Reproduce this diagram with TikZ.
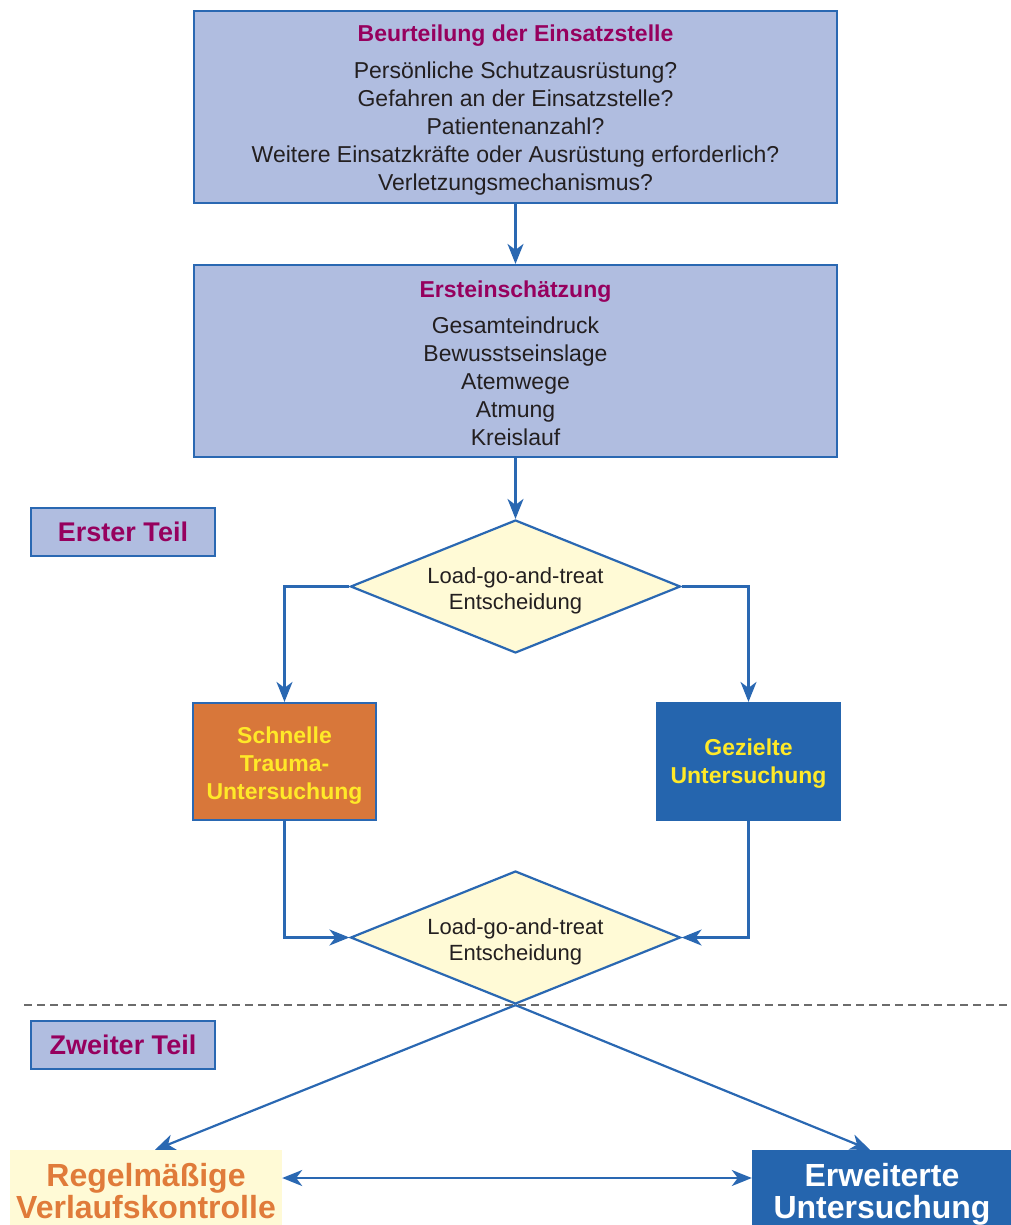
\documentclass[tikz,border=0pt]{standalone}
\usepackage{fontspec}
\setmainfont{Liberation Sans}
\usetikzlibrary{shapes.geometric,arrows.meta}
\definecolor{lineblue}{HTML}{2A68B2}
\definecolor{boxblue}{HTML}{B0BDE0}
\definecolor{titlemag}{HTML}{96005E}
\definecolor{textdark}{HTML}{231F20}
\definecolor{diamfill}{HTML}{FFFAD6}
\definecolor{orangefill}{HTML}{D8773A}
\definecolor{darkblue}{HTML}{2565AE}
\definecolor{yellowtxt}{HTML}{FFE928}
\definecolor{orangetxt}{HTML}{E07B3A}
\begin{document}
\begin{tikzpicture}[x=1pt,y=-1pt,
  bigbox/.style={draw=lineblue, line width=2.2pt, fill=boxblue, minimum width=643pt, minimum height=192pt, inner sep=0pt, align=center, text=textdark, font=\fontsize{23}{28}\selectfont},
  decision/.style={diamond, draw=lineblue, line width=2.2pt, fill=diamfill, minimum width=330pt, minimum height=133pt, aspect=2.48, inner sep=0pt, align=center, text=textdark, font=\fontsize{22}{26}\selectfont},
  tagbox/.style={draw=lineblue, line width=2.2pt, fill=boxblue, minimum width=184pt, minimum height=48pt, inner sep=0pt, text=titlemag, font=\fontsize{27}{30}\selectfont\bfseries},
  exambox/.style={line width=2.2pt, minimum width=183pt, minimum height=117pt, inner sep=0pt, align=center, text=yellowtxt, font=\fontsize{23}{28}\selectfont\bfseries},
  endbox/.style={minimum height=82pt, inner sep=0pt, align=center, font=\fontsize{32}{32}\selectfont\bfseries},
  conn/.style={draw=lineblue, line width=2.2pt, -{Stealth[length=20pt,width=16pt,inset=6pt]}},
  conn2/.style={draw=lineblue, line width=2.2pt, {Stealth[length=20pt,width=16pt,inset=6pt]}-{Stealth[length=20pt,width=16pt,inset=6pt]}}
]
\useasboundingbox (0,0) rectangle (1010,1225);

\node[bigbox] (scene) at (515.5,107) {\rule{0pt}{23pt}\textcolor{titlemag}{\textbf{Beurteilung der Einsatzstelle}}\\[9pt]
Persönliche Schutzausrüstung?\\
Gefahren an der Einsatzstelle?\\
Patientenanzahl?\\
Weitere Einsatzkräfte oder Ausrüstung erforderlich?\\
Verletzungsmechanismus?};

\node[bigbox] (first) at (515.5,361) {\rule{0pt}{21pt}\textcolor{titlemag}{\textbf{Ersteinschätzung}}\\[8pt]
Gesamteindruck\\
Bewusstseinslage\\
Atemwege\\
Atmung\\
Kreislauf};

\node[tagbox] (teil1) at (123,532) {Erster Teil};
\node[tagbox] (teil2) at (123,1045) {Zweiter Teil};

\node[decision] (d1) at (515.5,586.5) {\rule{0pt}{24pt}Load-go-and-treat\\Entscheidung};
\node[decision] (d2) at (515.5,937.5) {\rule{0pt}{24pt}Load-go-and-treat\\Entscheidung};

\node[exambox, draw=lineblue, fill=orangefill] (rapid) at (284.5,761.5) {\rule{0pt}{25pt}Schnelle\\Trauma-\\Untersuchung};
\node[exambox, draw=darkblue, fill=darkblue] (focus) at (748.5,761.5) {\rule{0pt}{21pt}Gezielte\\Untersuchung};

\node[endbox, fill=diamfill, text=orangetxt, minimum width=272pt] (ongoing) at (146,1191) {Regelmäßige\\Verlaufskontrolle};
\node[endbox, fill=darkblue, text=white, minimum width=260pt] (detail) at (882,1191) {\rule{0pt}{29pt}Erweiterte\\Untersuchung};

\coordinate (dashL) at (24,1005);
\coordinate (dashR) at (1010,1005);
\coordinate (ymark) at (0,1178);
\draw[draw=gray!85!black, line width=1.5pt, dash pattern=on 8pt off 5pt] (dashL) -- (dashR);

\draw[conn] (scene) -- (first);
\draw[conn] (first) -- (d1);
\draw[conn] (d1.west) -| (rapid.north);
\draw[conn] (d1.east) -| (focus.north);
\draw[conn] (rapid.south) |- (d2.west);
\draw[conn] (focus.south) |- (d2.east);
\draw[conn] (d2.south) -- ([xshift=9pt]ongoing.north);
\draw[conn] (d2.south) -- ([xshift=-12pt]detail.north);
\draw[conn2] (ongoing.east |- ymark) -- (detail.west |- ymark);
\end{tikzpicture}
\end{document}
